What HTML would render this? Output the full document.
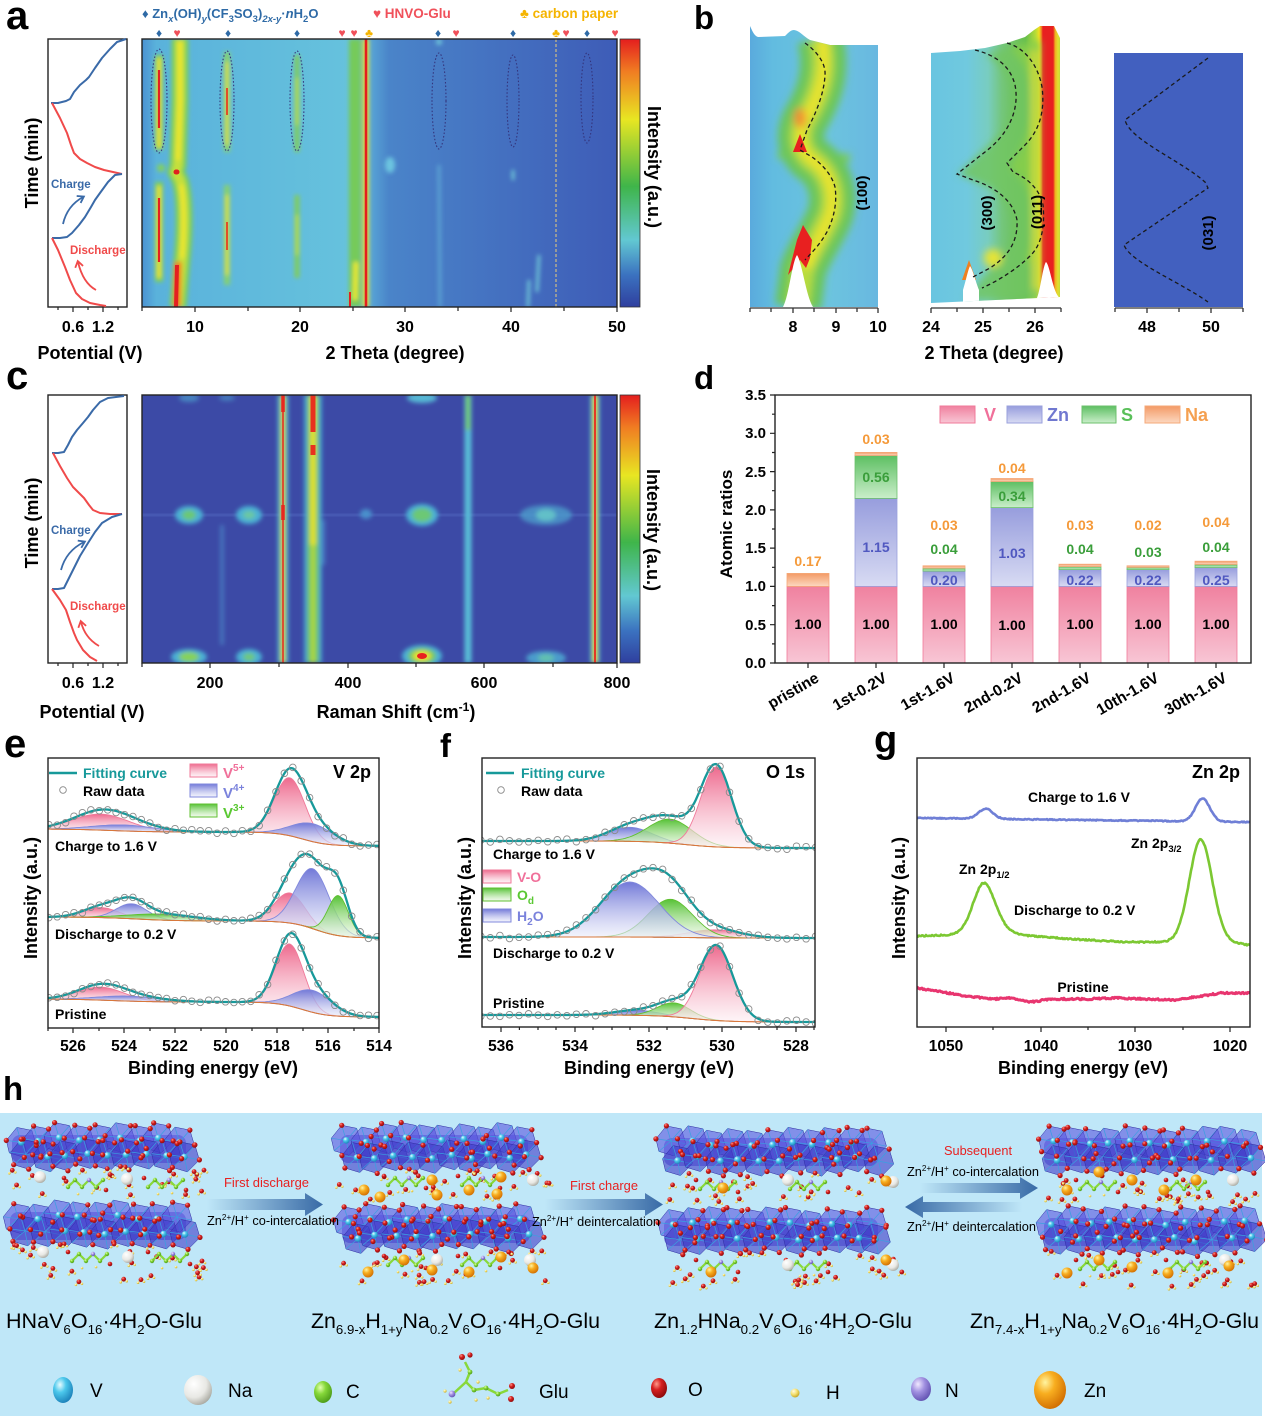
<!DOCTYPE html>
<html><head><meta charset="utf-8"><style>
html,body{margin:0;padding:0;background:#fff;}
svg{display:block;font-family:"Liberation Sans",Arial,sans-serif;}
</style></head><body>
<svg id="s" width="1265" height="1419" viewBox="0 0 1265 1419" xmlns="http://www.w3.org/2000/svg">
<defs>
<filter id="bl1" filterUnits="userSpaceOnUse" x="0" y="0" width="1265" height="1419"><feGaussianBlur stdDeviation="1.2"/></filter>
<filter id="bl2" filterUnits="userSpaceOnUse" x="0" y="0" width="1265" height="1419"><feGaussianBlur stdDeviation="2.2"/></filter>
<filter id="bl4" filterUnits="userSpaceOnUse" x="0" y="0" width="1265" height="1419"><feGaussianBlur stdDeviation="4"/></filter>
<linearGradient id="gA" x1="0" x2="1" y1="0" y2="0">
<stop offset="0" stop-color="#4b92d2"/><stop offset="0.03" stop-color="#5ab2db"/><stop offset="0.44" stop-color="#66c2dd"/><stop offset="0.48" stop-color="#58a6d6"/><stop offset="0.52" stop-color="#4a84c9"/><stop offset="1" stop-color="#3e5cb7"/></linearGradient>
<linearGradient id="gCB" x1="0" x2="0" y1="0" y2="1">
<stop offset="0" stop-color="#e41e1e"/><stop offset="0.12" stop-color="#f07c22"/><stop offset="0.3" stop-color="#e8e622"/><stop offset="0.55" stop-color="#3fb54a"/><stop offset="0.75" stop-color="#62c8d2"/><stop offset="0.88" stop-color="#3b72c0"/><stop offset="1" stop-color="#2f3f9e"/></linearGradient>
<linearGradient id="gB1" x1="0" x2="1" y1="0" y2="0">
<stop offset="0" stop-color="#58a6dc"/><stop offset="0.2" stop-color="#62bce0"/><stop offset="0.6" stop-color="#6cc4df"/><stop offset="1" stop-color="#68b6e0"/></linearGradient>
<linearGradient id="gB2" x1="0" x2="1" y1="0" y2="0">
<stop offset="0" stop-color="#68c4e0"/><stop offset="0.3" stop-color="#70c9df"/><stop offset="0.45" stop-color="#78cdc0"/><stop offset="0.55" stop-color="#74c67c"/><stop offset="0.72" stop-color="#66be4c"/><stop offset="0.79" stop-color="#b8dc38"/><stop offset="0.815" stop-color="#f0e020"/><stop offset="0.83" stop-color="#f08a20"/><stop offset="0.842" stop-color="#e82020"/><stop offset="0.915" stop-color="#e82020"/><stop offset="0.93" stop-color="#f0b020"/><stop offset="0.95" stop-color="#e0e030"/><stop offset="1" stop-color="#80cc48"/></linearGradient>
<linearGradient id="bV" x1="0" x2="0" y1="0" y2="1"><stop offset="0" stop-color="#f0819f"/><stop offset="1" stop-color="#f8c6d5"/></linearGradient>
<linearGradient id="bZn" x1="0" x2="0" y1="0" y2="1"><stop offset="0" stop-color="#979ddd"/><stop offset="1" stop-color="#d8dbf3"/></linearGradient>
<linearGradient id="bS" x1="0" x2="0" y1="0" y2="1"><stop offset="0" stop-color="#5dbf62"/><stop offset="1" stop-color="#caeeca"/></linearGradient>
<linearGradient id="bNa" x1="0" x2="0" y1="0" y2="1"><stop offset="0" stop-color="#f39a66"/><stop offset="1" stop-color="#fcd8c0"/></linearGradient>
<linearGradient id="xgP" x1="0" x2="0" y1="0" y2="1"><stop offset="0" stop-color="#ee6a8e"/><stop offset="1" stop-color="#fdeef3" stop-opacity="0.6"/></linearGradient>
<linearGradient id="xgB" x1="0" x2="0" y1="0" y2="1"><stop offset="0" stop-color="#7279d8"/><stop offset="1" stop-color="#eceefb" stop-opacity="0.6"/></linearGradient>
<linearGradient id="xgG" x1="0" x2="0" y1="0" y2="1"><stop offset="0" stop-color="#56c236"/><stop offset="1" stop-color="#eaf8e2" stop-opacity="0.6"/></linearGradient>
<linearGradient id="arR" x1="0" x2="1" y1="0" y2="0"><stop offset="0" stop-color="#bfe7f8"/><stop offset="1" stop-color="#386aa6"/></linearGradient>
<linearGradient id="arL" x1="1" x2="0" y1="0" y2="0"><stop offset="0" stop-color="#bfe7f8"/><stop offset="1" stop-color="#386aa6"/></linearGradient>
<radialGradient id="rV" cx="0.35" cy="0.3" r="0.75"><stop offset="0" stop-color="#e8fcff"/><stop offset="0.4" stop-color="#4cc8ec"/><stop offset="1" stop-color="#1a7fb8"/></radialGradient>
<radialGradient id="rNa" cx="0.35" cy="0.3" r="0.75"><stop offset="0" stop-color="#ffffff"/><stop offset="0.6" stop-color="#e8e8e4"/><stop offset="1" stop-color="#a8a8a0"/></radialGradient>
<radialGradient id="rC" cx="0.35" cy="0.3" r="0.75"><stop offset="0" stop-color="#e4ffb0"/><stop offset="0.4" stop-color="#86d83a"/><stop offset="1" stop-color="#4a9a18"/></radialGradient>
<radialGradient id="rO" cx="0.35" cy="0.3" r="0.75"><stop offset="0" stop-color="#ff9a8a"/><stop offset="0.4" stop-color="#d62020"/><stop offset="1" stop-color="#8a0a0a"/></radialGradient>
<radialGradient id="rH" cx="0.35" cy="0.3" r="0.75"><stop offset="0" stop-color="#fffbe0"/><stop offset="0.5" stop-color="#f4e070"/><stop offset="1" stop-color="#c0a020"/></radialGradient>
<radialGradient id="rN" cx="0.35" cy="0.3" r="0.75"><stop offset="0" stop-color="#f0e8ff"/><stop offset="0.45" stop-color="#a090e0"/><stop offset="1" stop-color="#6050b0"/></radialGradient>
<radialGradient id="rZn" cx="0.35" cy="0.3" r="0.75"><stop offset="0" stop-color="#fff4a0"/><stop offset="0.4" stop-color="#f8ae20"/><stop offset="1" stop-color="#d06c00"/></radialGradient>
<clipPath id="cA"><rect x="142" y="39" width="475" height="268"/></clipPath>
<clipPath id="cC"><rect x="142" y="395" width="475" height="268"/></clipPath>
<clipPath id="cB1"><path d="M750,26 C752,30 754,36 758,37 L785,36 C789,32 791,30 794,30 C800,31 803,36 810,40 L830,45 L878,45 L878,307 L750,307 Z"/></clipPath>
<clipPath id="cB2"><path d="M931,53 L960,51 L985,48 L1007,43 L1025,37 L1034,30 L1040,26 L1054,26 L1057,32 L1060,38 L1060,297 L931,303 Z"/></clipPath>
<clipPath id="cE"><rect x="48" y="758" width="331" height="270"/></clipPath>
<clipPath id="cF"><rect x="482" y="758" width="333" height="269"/></clipPath>
<clipPath id="cG"><rect x="917" y="758" width="333" height="269"/></clipPath>
<marker id="mkB" markerWidth="10" markerHeight="10" refX="6" refY="5" orient="auto" markerUnits="userSpaceOnUse"><path d="M1,1 L7,5 L1,9" fill="none" stroke="#3a6aa8" stroke-width="1.8"/></marker>
<marker id="mkR" markerWidth="10" markerHeight="10" refX="6" refY="5" orient="auto" markerUnits="userSpaceOnUse"><path d="M1,1 L7,5 L1,9" fill="none" stroke="#f04a4a" stroke-width="1.8"/></marker>
</defs>

<!-- ===== panel labels ===== -->
<g font-weight="bold" fill="#000">
<text x="6" y="29" font-size="40">a</text>
<text x="694" y="29" font-size="33">b</text>
<text x="6" y="389" font-size="40">c</text>
<text x="694" y="389" font-size="33">d</text>
<text x="4" y="757" font-size="40">e</text>
<text x="440" y="757" font-size="33">f</text>
<text x="874" y="752" font-size="38">g</text>
<text x="3" y="1100" font-size="33">h</text>
</g>

<!-- ===== panel a ===== -->
<g font-weight="bold">
<text x="142" y="18" font-size="13" fill="#2e6aa6">♦ Zn<tspan font-size="9.5" dy="4" font-style="italic">x</tspan><tspan dy="-4">(OH)</tspan><tspan font-size="9.5" dy="4" font-style="italic">y</tspan><tspan dy="-4">(CF</tspan><tspan font-size="9.5" dy="4">3</tspan><tspan dy="-4">SO</tspan><tspan font-size="9.5" dy="4">3</tspan><tspan dy="-4">)</tspan><tspan font-size="9.5" dy="4" font-style="italic">2x-y</tspan><tspan dy="-4">·</tspan><tspan font-style="italic">n</tspan>H<tspan font-size="9.5" dy="4">2</tspan><tspan dy="-4">O</tspan></text>
<text x="373" y="18" font-size="13.5" fill="#f0505a">♥ HNVO-Glu</text>
<text x="520" y="18" font-size="13.5" fill="#f5b400">♣ carbon paper</text>
</g>
<g font-size="12" text-anchor="middle">
<text x="159" y="37" fill="#2e6aa6">♦</text><text x="177" y="37" fill="#f0505a">♥</text>
<text x="228" y="37" fill="#2e6aa6">♦</text><text x="297" y="37" fill="#2e6aa6">♦</text>
<text x="342" y="37" fill="#f0505a">♥</text><text x="354" y="37" fill="#f0505a">♥</text><text x="369" y="37" fill="#f5b400">♣</text>
<text x="438" y="37" fill="#2e6aa6">♦</text><text x="456" y="37" fill="#f0505a">♥</text>
<text x="513" y="37" fill="#2e6aa6">♦</text><text x="556" y="37" fill="#f5b400">♣</text><text x="566" y="37" fill="#f0505a">♥</text>
<text x="587" y="37" fill="#2e6aa6">♦</text><text x="615" y="37" fill="#f0505a">♥</text>
</g>
<!-- heatmap a -->
<g clip-path="url(#cA)">
<rect x="142" y="39" width="475" height="268" fill="url(#gA)"/>
<g filter="url(#bl2)" fill="none">
<ellipse cx="390" cy="165" rx="5" ry="8" fill="#6cc4e0"/>
<path d="M439,165 L440,307" stroke="#66b8dc" stroke-width="3" opacity="0.7"/>
<circle cx="439" cy="42" r="3" fill="#70c8dc"/>
<path d="M529,280 L528,307" stroke="#70c8d8" stroke-width="3"/>
<path d="M539,255 L537,292" stroke="#70c8d8" stroke-width="3"/>
<path d="M513,170 L513,180" stroke="#70c8d8" stroke-width="3"/>
<path d="M180,39 L180,100 L178,165 L176,172 L180,180 C185,195 185,230 182,260 L178,307" stroke="#7ccf5a" stroke-width="17"/>
<path d="M180,39 L180,100 L178,165 L176,172 L180,180 C185,195 185,230 182,260 L178,307" stroke="#c6e03a" stroke-width="9"/>
<path d="M180,42 L180,100 L178,160 M181,185 C184,200 184,230 182,258" stroke="#f0e62a" stroke-width="4"/>
<path d="M178,262 L177,307" stroke="#f07a22" stroke-width="7"/>
<path d="M355,39 L355,307" stroke="#76ca5a" stroke-width="12"/>
<path d="M356,262 L355,300" stroke="#e8e830" stroke-width="5"/>
<path d="M366,39 L366,307" stroke="#e8e030" stroke-width="6"/>
<path d="M159,55 L159,150 M159,182 L159,282" stroke="#7ccf5a" stroke-width="8"/>
<path d="M159,58 L159,148 M159,186 L159,278" stroke="#eee430" stroke-width="4"/>
<circle cx="161" cy="168" r="4" fill="#82d060"/>
<path d="M227,52 L227,152 M227,185 L227,285" stroke="#86d070" stroke-width="6"/>
<path d="M227,62 L227,145 M227,195 L227,275" stroke="#e4e436" stroke-width="3"/>
<path d="M297,55 L297,152 M297,195 L297,278" stroke="#80cc5e" stroke-width="5"/>
<path d="M297,78 L297,125 M297,215 L297,255" stroke="#c6e040" stroke-width="2.5"/>
</g>
<g fill="none">
<path d="M176,172 L177,172" stroke="#e02020" stroke-width="5" stroke-linecap="round"/>
<path d="M177,265 L176,307" stroke="#e42020" stroke-width="4"/>
<path d="M159,70 L159,128 M159,198 L159,262" stroke="#e42020" stroke-width="2.2"/>
<path d="M227,88 L227,115 M227,222 L227,250" stroke="#e84020" stroke-width="1.8"/>
<path d="M350,292 L350,307" stroke="#e42020" stroke-width="2"/>
<path d="M366,39 L366,307" stroke="#e41e1e" stroke-width="2.6"/>
<path d="M556,39 L556,307" stroke="#b4ab8e" stroke-width="1.5" stroke-dasharray="3,2"/>
</g>
<g fill="none" stroke="#34347c" stroke-width="1.1" stroke-dasharray="1.5,2">
<ellipse cx="159" cy="101" rx="8" ry="52"/>
<ellipse cx="227" cy="101" rx="7" ry="50"/>
<ellipse cx="297" cy="101" rx="7" ry="50"/>
<ellipse cx="439" cy="101" rx="7" ry="48"/>
<ellipse cx="513" cy="101" rx="6" ry="46"/>
<ellipse cx="587" cy="98" rx="6" ry="45"/>
</g>
</g>
<rect x="142" y="39" width="475" height="268" fill="none" stroke="#222" stroke-width="1.4"/>
<rect x="620" y="39" width="20" height="268" fill="url(#gCB)" stroke="#333" stroke-width="0.8"/>
<g stroke="#222" stroke-width="1.2">
<path d="M142,307 v4 M195,307 v5 M248,307 v4 M300,307 v5 M353,307 v4 M405,307 v5 M458,307 v4 M511,307 v5 M564,307 v4 M617,307 v5"/>
</g>
<rect x="48" y="39" width="79" height="268" fill="none" stroke="#222" stroke-width="1.4"/>
<path d="M58,307 v3 M73,307 v5 M88,307 v3 M103,307 v5 M118,307 v3" stroke="#222" stroke-width="1.2"/>
<g fill="none" stroke-width="2" stroke-linejoin="round">
<polyline stroke="#3a6aa8" points="51,103 58,103 66,101 70,99 74,92 80,85 86,80 89,77 95,68 102,58 110,49 117,42 126,39"/>
<polyline stroke="#f04a4a" points="52,103 60,118 67,133 71,145 74,153 80,159 87,163 95,167 104,170 113,172 122,174"/>
<polyline stroke="#3a6aa8" points="122,174 115,175 108,182 100,193 95,200 91,207 85,217 79,225 72,233 67,237 60,238 52,238"/>
<polyline stroke="#f04a4a" points="52,238 58,250 65,267 70,280 76,293 82,299 90,303 100,305 106,306"/>
<path d="M63,224 Q67,206 83,197" stroke="#3a6aa8" stroke-width="1.8" marker-end="url(#mkB)"/>
<path d="M96,290 Q83,283 78,262" stroke="#f04a4a" stroke-width="1.8" marker-end="url(#mkR)"/>
</g>
<text x="51" y="188" font-size="11.5" font-weight="bold" fill="#3a6aa8">Charge</text>
<text x="70" y="254" font-size="11.5" font-weight="bold" fill="#f04a4a">Discharge</text>
<g font-weight="bold" font-size="16" text-anchor="middle">
<text x="73" y="332">0.6</text><text x="103" y="332">1.2</text>
<text x="195" y="332">10</text><text x="300" y="332">20</text><text x="405" y="332">30</text><text x="511" y="332">40</text><text x="617" y="332">50</text>
<text x="90" y="359" font-size="18">Potential (V)</text>
<text x="395" y="359" font-size="18">2 Theta (degree)</text>
<text transform="translate(38,163) rotate(-90)" font-size="18">Time (min)</text>
<text transform="translate(648,167) rotate(90)" font-size="18">Intensity (a.u.)</text>
</g>

<!-- ===== panel b ===== -->
<g clip-path="url(#cB1)">
<rect x="745" y="20" width="140" height="290" fill="url(#gB1)"/>
<g filter="url(#bl4)" fill="none">
<path d="M778,155 L850,158" stroke="#7ccd58" stroke-width="8"/>
<path d="M820,38 C828,70 820,95 805,120 C798,135 800,150 812,160 C830,172 836,195 830,215 C822,235 810,250 803,270 L798,307" stroke="#6cc65a" stroke-width="46"/>
<path d="M820,38 C828,70 820,95 805,120 C798,135 800,150 812,160 C830,172 836,195 830,215 C822,235 810,250 803,270 L798,307" stroke="#b8dc3c" stroke-width="22"/>
<path d="M822,40 C828,70 820,95 805,120 C798,135 800,150 812,160 C830,172 836,195 830,215 C822,235 812,250 806,268" stroke="#f0e42a" stroke-width="8"/>
<ellipse cx="800" cy="118" rx="6" ry="10" fill="#f09030"/>
</g>
<path d="M793,152 L800,134 L807,152 Z" fill="#e82020"/>
<path d="M788,275 L797,240 L803,225 L812,240 L810,258 L806,268 L800,260 Z" fill="#e82020"/>
<path d="M783,307 C789,296 792,262 797,255 C802,262 806,296 813,307 Z" fill="#fff"/>
</g>
<g clip-path="url(#cB2)">
<rect x="925" y="20" width="140" height="290" fill="url(#gB2)"/>
<g filter="url(#bl4)">
<path d="M985,55 C1010,65 1018,95 1005,130 L958,174 L995,190 C1017,213 1017,233 1003,257 L985,275 L965,300 L1040,300 L1040,40 Z" fill="#72c660" opacity="0.85"/>
<path d="M1010,48 C1035,70 1040,110 1020,150 L1010,168 C1035,185 1042,225 1025,262 L1040,262 L1040,40 Z" fill="#8ad048" opacity="0.8"/>
<ellipse cx="993" cy="258" rx="9" ry="9" fill="#e6e436"/>
<path d="M1034,50 L1036,290" stroke="#e0e030" stroke-width="5" fill="none"/>
</g>
<path d="M962,280 L969,260 L976,280 Z" fill="#f08020"/>
<path d="M963,290 C966,280 968,270 970,266 C973,270 975,280 979,290 L979,303 L963,303 Z" fill="#fff"/>
<path d="M1036,300 C1040,294 1043,265 1046,262 C1050,265 1053,294 1060,298 L1060,310 L1036,310 Z" fill="#fff"/>
</g>
<rect x="1114" y="53" width="129" height="254" fill="#3f5dbd"/>
<rect x="1114" y="53" width="129" height="254" fill="#4a66c4" opacity="0.3"/>
<g fill="none" stroke="#1a1a1a" stroke-width="1.3" stroke-dasharray="4,3">
<path d="M805,43 C815,50 826,62 825,75 C824,95 815,115 807,130 L800,150 L812,157 C822,164 832,175 835,187 C837,200 835,215 828,230 C820,245 812,252 805,260"/>
<path d="M975,50 C995,55 1010,65 1015,85 C1020,110 1008,135 985,152 L957,174 L973,180 C995,187 1013,200 1017,220 C1018,240 1010,255 990,268 L973,277"/>
<path d="M1007,43 C1025,48 1038,65 1042,87 C1045,110 1040,130 1025,145 L1007,163 L1013,172 C1028,178 1040,190 1043,205 C1045,225 1042,245 1030,256 C1018,268 1000,280 982,288"/>
<path d="M1208,58 L1125,120 C1130,140 1180,160 1205,182 L1208,188 L1124,245 C1130,262 1180,282 1208,302"/>
</g>
<g font-weight="bold" font-size="15">
<text transform="translate(867,193) rotate(-90)" text-anchor="middle">(100)</text>
<text transform="translate(992,213) rotate(-90)" text-anchor="middle">(300)</text>
<text transform="translate(1042,212) rotate(-90)" text-anchor="middle">(011)</text>
<text transform="translate(1213,233) rotate(-90)" text-anchor="middle">(031)</text>
</g>
<g stroke="#333" stroke-width="1.3">
<path d="M750,308 H878 M931,308 H1061 M1115,308 H1243"/>
<path d="M750,308 v4 M771,308 v4 M793,308 v5 M814,308 v4 M836,308 v5 M857,308 v4 M878,308 v5 M931,308 v5 M957,308 v4 M983,308 v5 M1009,308 v4 M1035,308 v5 M1061,308 v4 M1115,308 v4 M1147,308 v5 M1179,308 v4 M1211,308 v5 M1243,308 v4"/>
</g>
<g font-weight="bold" font-size="16" text-anchor="middle">
<text x="793" y="332">8</text><text x="836" y="332">9</text><text x="878" y="332">10</text>
<text x="931" y="332">24</text><text x="983" y="332">25</text><text x="1035" y="332">26</text>
<text x="1147" y="332">48</text><text x="1211" y="332">50</text>
<text x="994" y="359" font-size="18">2 Theta (degree)</text>
</g>

<!-- ===== panel c ===== -->
<g clip-path="url(#cC)">
<rect x="142" y="395" width="475" height="268" fill="#3c4aa6"/>
<path d="M142,515 H617" stroke="#4658b2" stroke-width="3"/>
<g filter="url(#bl2)" fill="none">
<path d="M222,525 L222,645" stroke="#4c8ccc" stroke-width="4" opacity="0.6"/>
<path d="M323,520 L323,565" stroke="#4c8ccc" stroke-width="5" opacity="0.6"/>
<path d="M283,395 V663" stroke="#4cb6d2" stroke-width="11" opacity="0.85"/>
<path d="M283,395 V663" stroke="#76cc60" stroke-width="6"/>
<path d="M283,395 V663" stroke="#e6dc30" stroke-width="3"/>
<path d="M313,395 V663" stroke="#4ab2d4" stroke-width="18" opacity="0.85"/>
<path d="M313,395 V663" stroke="#72c85a" stroke-width="11"/>
<path d="M313,395 V545" stroke="#e0e030" stroke-width="6"/>
<path d="M313,545 V663" stroke="#c0dc40" stroke-width="3"/>
<path d="M468,395 V663" stroke="#58bed8" stroke-width="7"/>
<path d="M468,395 V430" stroke="#72c870" stroke-width="5"/>
<path d="M595,395 V663" stroke="#4cb6d2" stroke-width="10" opacity="0.8"/>
<path d="M595,395 V663" stroke="#78cc5a" stroke-width="6"/>
<path d="M595,395 V663" stroke="#ece030" stroke-width="3.5"/>
<ellipse cx="189" cy="515" rx="14" ry="9" fill="#4cb0d4"/><ellipse cx="189" cy="515" rx="7" ry="5" fill="#6cc874"/>
<ellipse cx="249" cy="515" rx="13" ry="9" fill="#4cb0d4"/><ellipse cx="249" cy="515" rx="6" ry="4" fill="#6cc8a0"/>
<ellipse cx="366" cy="514" rx="6" ry="5" fill="#4a90cc"/>
<ellipse cx="422" cy="515" rx="16" ry="11" fill="#4cb0d4"/><ellipse cx="422" cy="515" rx="10" ry="7" fill="#6cc874"/>
<ellipse cx="546" cy="515" rx="26" ry="10" fill="#4c9ccc" opacity="0.8"/><ellipse cx="546" cy="515" rx="10" ry="6" fill="#62c0c8"/>
<ellipse cx="189" cy="657" rx="18" ry="8" fill="#4cb0d4"/><ellipse cx="189" cy="657" rx="10" ry="5" fill="#86d25a"/>
<ellipse cx="249" cy="657" rx="13" ry="8" fill="#4cb0d4"/><ellipse cx="249" cy="657" rx="6" ry="4" fill="#70c87a"/>
<ellipse cx="422" cy="656" rx="20" ry="11" fill="#4cb0d4"/><ellipse cx="422" cy="656" rx="14" ry="8" fill="#74ca5a"/><ellipse cx="422" cy="656" rx="9" ry="5" fill="#ece030"/>
<ellipse cx="546" cy="658" rx="20" ry="7" fill="#4c9ccc"/><ellipse cx="546" cy="658" rx="8" ry="4" fill="#62c0b0"/>
<ellipse cx="189" cy="398" rx="10" ry="4" fill="#4c9ccc" opacity="0.7"/>
<ellipse cx="227" cy="398" rx="8" ry="3" fill="#4c9ccc" opacity="0.6"/>
<ellipse cx="422" cy="398" rx="15" ry="5" fill="#56b8d4"/>
</g>
<g fill="none">
<path d="M283,395 V663" stroke="#e8281e" stroke-width="1.5"/>
<path d="M283,395 V412 M283,505 V520" stroke="#e8281e" stroke-width="3.5"/>
<path d="M313,395 V432 M313,445 V455" stroke="#e8301e" stroke-width="5"/>
<path d="M595,395 V663" stroke="#e8281e" stroke-width="1.8"/>
<ellipse cx="422" cy="656" rx="5" ry="3" fill="#e82020"/>
</g>
</g>
<rect x="142" y="395" width="475" height="268" fill="none" stroke="#222" stroke-width="1.4"/>
<rect x="620" y="395" width="20" height="268" fill="url(#gCB)" stroke="#333" stroke-width="0.8"/>
<path d="M142,663 v4 M210,663 v5 M279,663 v4 M348,663 v5 M416,663 v4 M484,663 v5 M553,663 v4 M617,663 v5" stroke="#222" stroke-width="1.2"/>
<rect x="48" y="395" width="79" height="268" fill="none" stroke="#222" stroke-width="1.4"/>
<path d="M58,663 v3 M73,663 v5 M88,663 v3 M103,663 v5 M118,663 v3" stroke="#222" stroke-width="1.2"/>
<g fill="none" stroke-width="2" stroke-linejoin="round">
<polyline stroke="#3a6aa8" points="52,453 58,453 64,452 68,445 72,437 77,430 83,423 88,417 93,410 100,402 108,398 116,397 124,396"/>
<polyline stroke="#f04a4a" points="53,453 60,466 67,478 73,487 79,493 84,498 89,505 93,510 100,513 110,514 122,514"/>
<polyline stroke="#3a6aa8" points="122,514 112,517 102,523 95,532 88,543 80,556 73,570 68,580 64,588 58,589 52,589"/>
<polyline stroke="#f04a4a" points="52,589 60,600 66,610 70,622 74,633 77,640 83,650 90,657 97,661"/>
<path d="M61,570 Q66,551 84,542" stroke="#3a6aa8" stroke-width="1.8" marker-end="url(#mkB)"/>
<path d="M99,646 Q85,638 81,622" stroke="#f04a4a" stroke-width="1.8" marker-end="url(#mkR)"/>
</g>
<text x="51" y="534" font-size="11.5" font-weight="bold" fill="#3a6aa8">Charge</text>
<text x="70" y="610" font-size="11.5" font-weight="bold" fill="#f04a4a">Discharge</text>
<g font-weight="bold" font-size="16" text-anchor="middle">
<text x="73" y="688">0.6</text><text x="103" y="688">1.2</text>
<text x="210" y="688">200</text><text x="348" y="688">400</text><text x="484" y="688">600</text><text x="617" y="688">800</text>
<text x="92" y="718" font-size="18">Potential (V)</text>
<text x="396" y="718" font-size="18">Raman Shift (cm<tspan font-size="12" dy="-7">-1</tspan><tspan dy="7">)</tspan></text>
<text transform="translate(38,523) rotate(-90)" font-size="18">Time (min)</text>
<text transform="translate(647,530) rotate(90)" font-size="18">Intensity (a.u.)</text>
</g>

<!-- ===== panel d ===== -->
<g stroke-width="0.8">
<rect x="787" y="586.4" width="42" height="76.6" fill="url(#bV)" stroke="#f07a9a"/>
<rect x="787" y="573.4" width="42" height="13" fill="url(#bNa)" stroke="#f5a878"/>
<rect x="855" y="586.4" width="42" height="76.6" fill="url(#bV)" stroke="#f07a9a"/>
<rect x="855" y="498.4" width="42" height="88" fill="url(#bZn)" stroke="#9aa0dc"/>
<rect x="855" y="455.5" width="42" height="42.9" fill="url(#bS)" stroke="#6cc06c"/>
<rect x="855" y="452.4" width="42" height="3.1" fill="url(#bNa)" stroke="#f5a878"/>
<rect x="923" y="586.4" width="42" height="76.6" fill="url(#bV)" stroke="#f07a9a"/>
<rect x="923" y="571.1" width="42" height="15.3" fill="url(#bZn)" stroke="#9aa0dc"/>
<rect x="923" y="568.1" width="42" height="3" fill="url(#bS)" stroke="#6cc06c"/>
<rect x="923" y="565.8" width="42" height="2.3" fill="url(#bNa)" stroke="#f5a878"/>
<rect x="991" y="586.4" width="42" height="76.6" fill="url(#bV)" stroke="#f07a9a"/>
<rect x="991" y="507.6" width="42" height="78.8" fill="url(#bZn)" stroke="#9aa0dc"/>
<rect x="991" y="481.5" width="42" height="26.1" fill="url(#bS)" stroke="#6cc06c"/>
<rect x="991" y="478.5" width="42" height="3" fill="url(#bNa)" stroke="#f5a878"/>
<rect x="1059" y="586.4" width="42" height="76.6" fill="url(#bV)" stroke="#f07a9a"/>
<rect x="1059" y="569.6" width="42" height="16.8" fill="url(#bZn)" stroke="#9aa0dc"/>
<rect x="1059" y="566.5" width="42" height="3.1" fill="url(#bS)" stroke="#6cc06c"/>
<rect x="1059" y="564.2" width="42" height="2.3" fill="url(#bNa)" stroke="#f5a878"/>
<rect x="1127" y="586.4" width="42" height="76.6" fill="url(#bV)" stroke="#f07a9a"/>
<rect x="1127" y="569.6" width="42" height="16.8" fill="url(#bZn)" stroke="#9aa0dc"/>
<rect x="1127" y="567.3" width="42" height="2.3" fill="url(#bS)" stroke="#6cc06c"/>
<rect x="1127" y="565.8" width="42" height="1.5" fill="url(#bNa)" stroke="#f5a878"/>
<rect x="1195" y="586.4" width="42" height="76.6" fill="url(#bV)" stroke="#f07a9a"/>
<rect x="1195" y="567.5" width="42" height="18.9" fill="url(#bZn)" stroke="#9aa0dc"/>
<rect x="1195" y="564.4" width="42" height="3.1" fill="url(#bS)" stroke="#6cc06c"/>
<rect x="1195" y="561.2" width="42" height="3.2" fill="url(#bNa)" stroke="#f5a878"/>
</g>
<rect x="775" y="395" width="476" height="268" fill="none" stroke="#222" stroke-width="1.4"/>
<g stroke="#222" stroke-width="1.2">
<path d="M775,663 h-5 M775,624.7 h-5 M775,586.4 h-5 M775,548.1 h-5 M775,509.9 h-5 M775,471.6 h-5 M775,433.3 h-5 M775,395 h-5"/>
<path d="M775,643.9 h-3 M775,605.6 h-3 M775,567.3 h-3 M775,529 h-3 M775,490.7 h-3 M775,452.5 h-3 M775,414.2 h-3"/>
<path d="M808,663 v5 M876,663 v5 M944,663 v5 M1012,663 v5 M1080,663 v5 M1148,663 v5 M1216,663 v5"/>
</g>
<g font-weight="bold" font-size="15" text-anchor="end">
<text x="766" y="668">0.0</text><text x="766" y="630">0.5</text><text x="766" y="591">1.0</text><text x="766" y="553">1.5</text>
<text x="766" y="515">2.0</text><text x="766" y="477">2.5</text><text x="766" y="438">3.0</text><text x="766" y="400">3.5</text>
<text transform="translate(820,681) rotate(-30)" font-size="15.5">pristine</text>
<text transform="translate(888,681) rotate(-30)" font-size="15.5">1st-0.2V</text>
<text transform="translate(956,681) rotate(-30)" font-size="15.5">1st-1.6V</text>
<text transform="translate(1024,681) rotate(-30)" font-size="15.5">2nd-0.2V</text>
<text transform="translate(1092,681) rotate(-30)" font-size="15.5">2nd-1.6V</text>
<text transform="translate(1160,681) rotate(-30)" font-size="15.5">10th-1.6V</text>
<text transform="translate(1228,681) rotate(-30)" font-size="15.5">30th-1.6V</text>
</g>
<text transform="translate(732,524) rotate(-90)" font-weight="bold" font-size="17" text-anchor="middle">Atomic ratios</text>
<g font-weight="bold" font-size="14" text-anchor="middle">
<text x="808" y="629">1.00</text><text x="876" y="629">1.00</text><text x="944" y="629">1.00</text><text x="1012" y="630">1.00</text><text x="1080" y="629">1.00</text><text x="1148" y="629">1.00</text><text x="1216" y="629">1.00</text>
<g fill="#f59a3a"><text x="808" y="566">0.17</text><text x="876" y="444">0.03</text><text x="944" y="530">0.03</text><text x="1012" y="473">0.04</text><text x="1080" y="530">0.03</text><text x="1148" y="530">0.02</text><text x="1216" y="527">0.04</text></g>
<g fill="#3a9e3a"><text x="876" y="482">0.56</text><text x="944" y="554">0.04</text><text x="1012" y="501">0.34</text><text x="1080" y="554">0.04</text><text x="1148" y="557">0.03</text><text x="1216" y="552">0.04</text></g>
<g fill="#5058c0"><text x="876" y="552">1.15</text><text x="944" y="585">0.20</text><text x="1012" y="558">1.03</text><text x="1080" y="585">0.22</text><text x="1148" y="585">0.22</text><text x="1216" y="585">0.25</text></g>
</g>
<rect x="940" y="406" width="35" height="17" fill="url(#bV)" stroke="#f07a9a"/>
<rect x="1007" y="406" width="35" height="17" fill="url(#bZn)" stroke="#9aa0dc"/>
<rect x="1082" y="406" width="34" height="17" fill="url(#bS)" stroke="#6cc06c"/>
<rect x="1145" y="406" width="35" height="17" fill="url(#bNa)" stroke="#f5a878"/>
<g font-weight="bold" font-size="18">
<text x="984" y="421" fill="#f0709a">V</text>
<text x="1047" y="421" fill="#7078d0">Zn</text>
<text x="1121" y="421" fill="#5ac05a">S</text>
<text x="1185" y="421" fill="#f5a050">Na</text>
</g>

<!-- ===== panel e ===== -->
<g id="gE" clip-path="url(#cE)"></g>
<rect x="48" y="758" width="331" height="270" fill="none" stroke="#222" stroke-width="1.4"/>
<path d="M48,1028 v3 M73,1028 v5 M99,1028 v3 M124,1028 v5 M150,1028 v3 M175,1028 v5 M201,1028 v3 M226,1028 v5 M252,1028 v3 M277,1028 v5 M303,1028 v3 M328,1028 v5 M354,1028 v3 M379,1028 v5" stroke="#222" stroke-width="1.2"/>
<g font-weight="bold">
<path d="M49,773 H77" stroke="#17999a" stroke-width="2.4"/>
<text x="83" y="778" font-size="14" fill="#17999a">Fitting curve</text>
<circle cx="63" cy="790" r="3.3" fill="none" stroke="#888" stroke-width="0.9"/>
<text x="83" y="796" font-size="14">Raw data</text>
<rect x="190" y="764" width="27" height="13" fill="url(#xgP)" stroke="#f07a9a"/>
<rect x="190" y="784" width="27" height="13" fill="url(#xgB)" stroke="#8088dc"/>
<rect x="190" y="804" width="27" height="13" fill="url(#xgG)" stroke="#60c030"/>
<text x="223" y="778" font-size="15" fill="#f0709a">V<tspan font-size="10" dy="-7">5+</tspan></text>
<text x="223" y="798" font-size="15" fill="#7a82dc">V<tspan font-size="10" dy="-7">4+</tspan></text>
<text x="223" y="818" font-size="15" fill="#5ac832">V<tspan font-size="10" dy="-7">3+</tspan></text>
<text x="333" y="778" font-size="18">V 2p</text>
<text x="55" y="851" font-size="14">Charge to 1.6 V</text>
<text x="55" y="939" font-size="14">Discharge to 0.2 V</text>
<text x="55" y="1019" font-size="14">Pristine</text>
<g font-size="15.5" text-anchor="middle">
<text x="73" y="1051">526</text><text x="124" y="1051">524</text><text x="175" y="1051">522</text><text x="226" y="1051">520</text><text x="277" y="1051">518</text><text x="328" y="1051">516</text><text x="379" y="1051">514</text>
<text x="213" y="1074" font-size="18">Binding energy (eV)</text>
<text transform="translate(37,898) rotate(-90)" font-size="18">Intensity (a.u.)</text>
</g>
</g>

<!-- ===== panel f ===== -->
<g id="gF" clip-path="url(#cF)"></g>
<rect x="482" y="758" width="333" height="269" fill="none" stroke="#222" stroke-width="1.4"/>
<path d="M501,1027 v5 M519.4,1027 v3 M538,1027 v3 M556,1027 v3 M575,1027 v5 M593,1027 v3 M612,1027 v3 M630,1027 v3 M649,1027 v5 M667,1027 v3 M685,1027 v3 M704,1027 v3 M722,1027 v5 M741,1027 v3 M759,1027 v3 M777,1027 v3 M796,1027 v5 M814,1027 v3" stroke="#222" stroke-width="1.2"/>
<g font-weight="bold">
<path d="M486,773 H514" stroke="#17999a" stroke-width="2.4"/>
<text x="521" y="778" font-size="14" fill="#17999a">Fitting curve</text>
<circle cx="501" cy="790" r="3.3" fill="none" stroke="#888" stroke-width="0.9"/>
<text x="521" y="796" font-size="14">Raw data</text>
<text x="766" y="778" font-size="18">O 1s</text>
<text x="493" y="859" font-size="14">Charge to 1.6 V</text>
<rect x="483" y="870" width="28" height="13" fill="url(#xgP)" stroke="#f07a9a"/>
<rect x="483" y="888" width="28" height="13" fill="url(#xgG)" stroke="#60c030"/>
<rect x="483" y="909" width="28" height="13" fill="url(#xgB)" stroke="#8088dc"/>
<text x="517" y="882" font-size="14" fill="#f0709a">V-O</text>
<text x="517" y="900" font-size="14" fill="#5ac832">O<tspan font-size="10" dy="4">d</tspan></text>
<text x="517" y="921" font-size="14" fill="#7a82dc">H<tspan font-size="10" dy="4">2</tspan><tspan dy="-4">O</tspan></text>
<text x="493" y="958" font-size="14">Discharge to 0.2 V</text>
<text x="493" y="1008" font-size="14">Pristine</text>
<g font-size="15.5" text-anchor="middle">
<text x="501" y="1051">536</text><text x="575" y="1051">534</text><text x="649" y="1051">532</text><text x="722" y="1051">530</text><text x="796" y="1051">528</text>
<text x="649" y="1074" font-size="18">Binding energy (eV)</text>
<text transform="translate(471,898) rotate(-90)" font-size="18">Intensity (a.u.)</text>
</g>
</g>

<!-- ===== panel g ===== -->
<g id="gG" clip-path="url(#cG)"></g>
<rect x="917" y="758" width="333" height="269" fill="none" stroke="#222" stroke-width="1.4"/>
<path d="M946,1027 v5 M993,1027 v3 M1041,1027 v5 M1088,1027 v3 M1135,1027 v5 M1183,1027 v3 M1230,1027 v5" stroke="#222" stroke-width="1.2"/>
<g font-weight="bold">
<text x="1240" y="778" font-size="18" text-anchor="end">Zn 2p</text>
<text x="1079" y="802" font-size="14" text-anchor="middle">Charge to 1.6 V</text>
<text x="1131" y="848" font-size="14">Zn 2p<tspan font-size="9.5" dy="4">3/2</tspan></text>
<text x="959" y="874" font-size="14">Zn 2p<tspan font-size="9.5" dy="4">1/2</tspan></text>
<text x="1014" y="915" font-size="14">Discharge to 0.2 V</text>
<text x="1083" y="992" font-size="14" text-anchor="middle">Pristine</text>
<g font-size="15.5" text-anchor="middle">
<text x="946" y="1051">1050</text><text x="1041" y="1051">1040</text><text x="1135" y="1051">1030</text><text x="1230" y="1051">1020</text>
<text x="1083" y="1074" font-size="18">Binding energy (eV)</text>
<text transform="translate(905,898) rotate(-90)" font-size="18">Intensity (a.u.)</text>
</g>
</g>

<!-- ===== panel h ===== -->
<rect x="0" y="1113" width="1262" height="303" fill="#bfe7f8"/>
<g id="gH"></g>
<polygon points="207,1199 305,1199 305,1193 323,1204.5 305,1216 305,1210 207,1210" fill="url(#arR)"/>
<polygon points="545,1199 645,1199 645,1193 663,1204.5 645,1216 645,1210 545,1210" fill="url(#arR)"/>
<polygon points="920,1183 1020,1183 1020,1177 1038,1188 1020,1199 1020,1193 920,1193" fill="url(#arR)"/>
<polygon points="1022,1202 923,1202 923,1196 905,1207 923,1218 923,1212 1022,1212" fill="url(#arL)"/>
<g font-size="12.5">
<text x="224" y="1187" fill="#e82020" textLength="85" lengthAdjust="spacingAndGlyphs">First discharge</text>
<text x="207" y="1225" textLength="132" lengthAdjust="spacingAndGlyphs">Zn<tspan font-size="8" dy="-5">2+</tspan><tspan dy="5">/H</tspan><tspan font-size="8" dy="-5">+</tspan><tspan dy="5"> co-intercalation</tspan></text>
<text x="570" y="1190" fill="#e82020" textLength="68" lengthAdjust="spacingAndGlyphs">First charge</text>
<text x="532" y="1226" textLength="128" lengthAdjust="spacingAndGlyphs">Zn<tspan font-size="8" dy="-5">2+</tspan><tspan dy="5">/H</tspan><tspan font-size="8" dy="-5">+</tspan><tspan dy="5"> deintercalation</tspan></text>
<text x="944" y="1155" fill="#e82020" textLength="68" lengthAdjust="spacingAndGlyphs">Subsequent</text>
<text x="907" y="1176" textLength="132" lengthAdjust="spacingAndGlyphs">Zn<tspan font-size="8" dy="-5">2+</tspan><tspan dy="5">/H</tspan><tspan font-size="8" dy="-5">+</tspan><tspan dy="5"> co-intercalation</tspan></text>
<text x="907" y="1231" textLength="129" lengthAdjust="spacingAndGlyphs">Zn<tspan font-size="8" dy="-5">2+</tspan><tspan dy="5">/H</tspan><tspan font-size="8" dy="-5">+</tspan><tspan dy="5"> deintercalation</tspan></text>
</g>
<g font-size="21">
<text x="6" y="1328" textLength="196" lengthAdjust="spacingAndGlyphs">HNaV<tspan font-size="13" dy="6">6</tspan><tspan dy="-6">O</tspan><tspan font-size="13" dy="6">16</tspan><tspan dy="-6">·4H</tspan><tspan font-size="13" dy="6">2</tspan><tspan dy="-6">O-Glu</tspan></text>
<text x="311" y="1328" textLength="289" lengthAdjust="spacingAndGlyphs">Zn<tspan font-size="13" dy="6">6.9-x</tspan><tspan dy="-6">H</tspan><tspan font-size="13" dy="6">1+y</tspan><tspan dy="-6">Na</tspan><tspan font-size="13" dy="6">0.2</tspan><tspan dy="-6">V</tspan><tspan font-size="13" dy="6">6</tspan><tspan dy="-6">O</tspan><tspan font-size="13" dy="6">16</tspan><tspan dy="-6">·4H</tspan><tspan font-size="13" dy="6">2</tspan><tspan dy="-6">O-Glu</tspan></text>
<text x="654" y="1328" textLength="258" lengthAdjust="spacingAndGlyphs">Zn<tspan font-size="13" dy="6">1.2</tspan><tspan dy="-6">HNa</tspan><tspan font-size="13" dy="6">0.2</tspan><tspan dy="-6">V</tspan><tspan font-size="13" dy="6">6</tspan><tspan dy="-6">O</tspan><tspan font-size="13" dy="6">16</tspan><tspan dy="-6">·4H</tspan><tspan font-size="13" dy="6">2</tspan><tspan dy="-6">O-Glu</tspan></text>
<text x="970" y="1328" textLength="289" lengthAdjust="spacingAndGlyphs">Zn<tspan font-size="13" dy="6">7.4-x</tspan><tspan dy="-6">H</tspan><tspan font-size="13" dy="6">1+y</tspan><tspan dy="-6">Na</tspan><tspan font-size="13" dy="6">0.2</tspan><tspan dy="-6">V</tspan><tspan font-size="13" dy="6">6</tspan><tspan dy="-6">O</tspan><tspan font-size="13" dy="6">16</tspan><tspan dy="-6">·4H</tspan><tspan font-size="13" dy="6">2</tspan><tspan dy="-6">O-Glu</tspan></text>
</g>
<ellipse cx="63" cy="1390" rx="10" ry="13" fill="url(#rV)"/>
<ellipse cx="198" cy="1390" rx="14" ry="15" fill="url(#rNa)"/>
<ellipse cx="323" cy="1392" rx="9" ry="11" fill="url(#rC)"/>
<ellipse cx="659" cy="1388" rx="8" ry="10" fill="url(#rO)"/>
<circle cx="795" cy="1393" r="4.5" fill="url(#rH)"/>
<ellipse cx="921" cy="1389" rx="10" ry="12" fill="url(#rN)"/>
<ellipse cx="1050" cy="1390" rx="16" ry="19" fill="url(#rZn)"/>
<g fill="none" stroke="#88d83a" stroke-width="2.5">
<polyline points="465,1362 470,1372 466,1382 474,1390 486,1388 498,1394 508,1390"/>
<path d="M466,1382 L454,1393"/>
</g>
<circle cx="462" cy="1357" r="3" fill="url(#rO)"/><circle cx="470" cy="1355" r="2.6" fill="url(#rO)"/>
<circle cx="512" cy="1386" r="3" fill="url(#rO)"/><circle cx="511" cy="1399" r="3" fill="url(#rO)"/>
<circle cx="452" cy="1394" r="3.4" fill="url(#rN)"/>
<circle cx="470" cy="1372" r="2.4" fill="url(#rC)"/><circle cx="474" cy="1390" r="2.4" fill="url(#rC)"/><circle cx="486" cy="1388" r="2.4" fill="url(#rC)"/><circle cx="498" cy="1394" r="2.4" fill="url(#rC)"/>
<circle cx="445" cy="1391" r="1.6" fill="url(#rH)"/><circle cx="450" cy="1402" r="1.6" fill="url(#rH)"/><circle cx="478" cy="1382" r="1.6" fill="url(#rH)"/><circle cx="488" cy="1398" r="1.6" fill="url(#rH)"/><circle cx="476" cy="1400" r="1.6" fill="url(#rH)"/><circle cx="460" cy="1370" r="1.6" fill="url(#rH)"/>
<g font-size="19">
<text x="90" y="1397">V</text><text x="228" y="1397">Na</text><text x="346" y="1398">C</text><text x="539" y="1398">Glu</text>
<text x="688" y="1396">O</text><text x="826" y="1399">H</text><text x="945" y="1397">N</text><text x="1084" y="1397">Zn</text>
</g>
</svg>
<script>
(function(){
var NS="http://www.w3.org/2000/svg";
function el(t,a,p){var e=document.createElementNS(NS,t);for(var k in a)e.setAttribute(k,a[k]);p.appendChild(e);return e;}
var seed=12345;function rnd(){seed=(seed*16807)%2147483647;return (seed-1)/2147483646;}
function sig(x){return 1/(1+Math.exp(-x));}
function f(v){return v.toFixed(1);}
var XS={P:"#f07a9a",B:"#8088dc",G:"#60c030"};
function xps(g,xOf,E1,E2,yL,steps,comps,dE){
 function base(E){var y=yL;for(var i=0;i<steps.length;i++){var s=steps[i];y+=s[1]*sig((s[0]-E)/s[2]);}return y;}
 function cv(c,E){return c.h*Math.exp(-0.5*Math.pow((E-c.E0)/c.s,2));}
 function fit(E){var y=base(E);for(var i=0;i<comps.length;i++)y-=cv(comps[i],E);return y;}
 comps.forEach(function(c){
  var a=Math.min(E1,c.E0+3.6*c.s),b=Math.max(E2,c.E0-3.6*c.s);var top=[],bot=[];
  for(var i=0;i<=70;i++){var E=a-(a-b)*i/70;top.push(f(xOf(E))+","+f(base(E)-cv(c,E)));bot.unshift(f(xOf(E))+","+f(base(E)));}
  el("path",{d:"M"+top.join("L")+"L"+bot.join("L")+"Z",fill:"url(#xg"+c.c+")",stroke:XS[c.c],"stroke-width":0.9},g);
 });
 var bl=[],fl=[];
 for(var i=0;i<=220;i++){var E=E1-(E1-E2)*i/220;bl.push(f(xOf(E))+","+f(base(E)));fl.push(f(xOf(E))+","+f(fit(E)));}
 el("polyline",{points:bl.join(" "),fill:"none",stroke:"#d8783c","stroke-width":1.1},g);
 el("polyline",{points:fl.join(" "),fill:"none",stroke:"#17999a","stroke-width":2.3},g);
 for(var E=E1-0.05;E>E2;E-=dE){el("circle",{cx:f(xOf(E)),cy:f(fit(E)+(rnd()-0.5)*3.5),r:3.3,fill:"none",stroke:"#8a8a8a","stroke-width":0.9},g);}
}
var gE=document.getElementById("gE");
var xe=function(E){return 73+(526-E)*25.5;};
xps(gE,xe,527,514,829,[[524.5,3,0.8],[517,14,0.5]],[{E0:524.9,h:16,s:1.1,c:"P"},{E0:524.0,h:6,s:1.2,c:"B"},{E0:517.5,h:58,s:0.6,c:"P"},{E0:516.6,h:18,s:0.8,c:"B"}],0.33);
xps(gE,xe,527,514,917,[[523.5,4,0.8],[516.5,17,0.5]],[{E0:524.9,h:10,s:0.7,c:"P"},{E0:523.7,h:15,s:0.6,c:"B"},{E0:522.5,h:6,s:1.3,c:"G"},{E0:517.5,h:30,s:0.6,c:"P"},{E0:516.6,h:60,s:0.65,c:"B"},{E0:515.6,h:40,s:0.4,c:"G"}],0.33);
xps(gE,xe,527,514,999,[[524.5,3,0.8],[517,15,0.5]],[{E0:524.9,h:13,s:0.9,c:"P"},{E0:523.8,h:5,s:1.2,c:"B"},{E0:517.5,h:62,s:0.55,c:"P"},{E0:516.6,h:22,s:0.75,c:"B"}],0.33);
var gF=document.getElementById("gF");
var xf=function(E){return 501+(536-E)*36.8;};
xps(gF,xf,536.6,527.4,841,[[531,7,0.5]],[{E0:532.5,h:14,s:0.6,c:"B"},{E0:531.4,h:24,s:0.6,c:"G"},{E0:530.15,h:80,s:0.42,c:"P"}],0.26);
xps(gF,xf,536.6,527.4,937,[[531,1,0.5]],[{E0:530.2,h:8,s:0.7,c:"P"},{E0:531.4,h:38,s:0.6,c:"G"},{E0:532.5,h:55,s:0.8,c:"B"}],0.26);
xps(gF,xf,536.6,527.4,1015,[[530.8,7,0.5]],[{E0:532.3,h:5,s:0.6,c:"B"},{E0:531.3,h:14,s:0.45,c:"G"},{E0:530.15,h:75,s:0.45,c:"P"}],0.26);
var gG=document.getElementById("gG");
function interp(t,E){if(E>=t[0][0])return t[0][1];for(var i=1;i<t.length;i++){if(E>=t[i][0]){var a=t[i-1],b=t[i];return b[1]+(a[1]-b[1])*(E-b[0])/(a[0]-b[0]);}}return t[t.length-1][1];}
function gpk(E,E0,h,s){return h*Math.exp(-0.5*Math.pow((E-E0)/s,2));}
function gline(fn,col,w,nz){var p=[];for(var x=916;x<=1251;x+=1){var E=1050-(x-946)/9.47;p.push(x+","+f(fn(E)+(rnd()-0.5)*nz));}el("polyline",{points:p.join(" "),fill:"none",stroke:col,"stroke-width":w,"stroke-linejoin":"round"},gG);}
gline(function(E){return 818+(1053-E)/35*4-gpk(E,1045.8,10,0.75)-gpk(E,1022.9,23,0.75);},"#6f7fd6",2.6,1.0);
var tD=[[1053,936],[1047,934],[1044,931],[1042,935],[1037,939],[1031,942],[1027,942],[1025,942],[1021,941],[1018,945]];
gline(function(E){return interp(tD,E)-gpk(E,1046.0,50,1.15)-gpk(E,1023.1,102,1.2);},"#7cc832",2.6,1.4);
var tP=[[1053,988],[1051,991],[1048,996],[1045,999],[1043,998],[1041,1002],[1039,999],[1035,999],[1032,998],[1029,999],[1026,1000],[1023,996],[1021,993],[1018,993]];
gline(function(E){return interp(tP,E);},"#e8356f",3,1.6);
var gH=document.getElementById("gH");
function ball(x,y,r,gr){el("circle",{cx:f(x),cy:f(y),r:r,fill:"url(#"+gr+")"},gH);}
function layer(x0,y0,w){
 var n=Math.round(w/20),O=[],V=[];
 el("rect",{x:x0+4,y:y0+8,width:w-8,height:28,rx:8,fill:"#4a46d4","fill-opacity":0.55},gH);
 for(var row=0;row<2;row++){for(var i=0;i<n;i++){
  var cx=x0+12+i*(w-24)/(n-1)+(row?7:0)+(rnd()-0.5)*4,cy=y0+13+row*16+(rnd()-0.5)*5,r=15;
  var pts=[[cx-r,cy-2],[cx-r*0.3,cy-r],[cx+r*0.7,cy-r*0.8],[cx+r,cy+3],[cx+r*0.2,cy+r],[cx-r*0.8,cy+r*0.7]];
  el("polygon",{points:pts.map(function(p){return f(p[0])+","+f(p[1]);}).join(" "),fill:row?"#403cc8":"#5a56e0","fill-opacity":0.6,stroke:"#2e2ca0","stroke-width":0.5},gH);
  pts.forEach(function(p){el("line",{x1:f(cx),y1:f(cy),x2:f(p[0]),y2:f(p[1]),stroke:"#3aa0e0","stroke-width":0.7},gH);});
  pts.forEach(function(p){if(rnd()<0.45)O.push(p);});if(rnd()<0.8)V.push([cx,cy]);
 }}
 V.forEach(function(p){ball(p[0],p[1],3.3,"rV");});
 O.forEach(function(p){ball(p[0],p[1],2.6,"rO");});
}
function mols(x0,y0,w,h,nW,glus,na,zn){
 for(var k=0;k<nW;k++){var x=x0+rnd()*w,y=y0+rnd()*h;
  el("line",{x1:f(x),y1:f(y),x2:f(x-3),y2:f(y+3),stroke:"#e8d070","stroke-width":0.8},gH);
  ball(x,y,2.4,"rO");ball(x-3,y+3,1.3,"rH");ball(x+3,y+2,1.3,"rH");}
 glus.forEach(function(g){var x=g[0],y=g[1],pts=[];for(var i=0;i<6;i++)pts.push([x+i*7,y+(i%2?-4:3)]);
  el("polyline",{points:pts.map(function(p){return f(p[0])+","+f(p[1]);}).join(" "),fill:"none",stroke:"#88d83a","stroke-width":2.2},gH);
  pts.forEach(function(p,i){ball(p[0],p[1],2.2,i==3?"rN":"rC");});
  ball(x-4,y-6,2.3,"rO");ball(x+38,y+6,2.3,"rO");ball(x+10,y+10,1.3,"rH");ball(x+24,y+9,1.3,"rH");});
 na.forEach(function(p){ball(p[0],p[1],6,"rNa");});
 zn.forEach(function(p){ball(p[0],p[1],5.5,"rZn");});
}
layer(8,1127,182);mols(10,1166,200,30,24,[[68,1184],[148,1184]],[[40,1177],[127,1179]],[]);
layer(6,1204,184);mols(10,1242,200,40,26,[[72,1258],[152,1258]],[[43,1252],[128,1257]],[]);
layer(336,1127,196);mols(338,1168,222,32,24,[[388,1182],[462,1182]],[[533,1180]],[[364,1190],[380,1197],[432,1180],[437,1195],[469,1190],[501,1177],[497,1194]]);
layer(338,1207,196);mols(338,1248,222,38,26,[[388,1262],[462,1262]],[[437,1260],[530,1260]],[[368,1272],[404,1260],[432,1270],[469,1272],[501,1257],[533,1268]]);
layer(660,1130,222);mols(662,1173,240,30,24,[[700,1186],[790,1186]],[[788,1180],[893,1182]],[[723,1188],[886,1181]]);
layer(660,1210,222);mols(662,1251,240,36,26,[[700,1266],[790,1266]],[[788,1265],[893,1265]],[[711,1272],[886,1260]]);
layer(1040,1130,216);mols(1042,1173,218,30,24,[[1080,1186],[1170,1186]],[[1233,1180]],[[1067,1190],[1099,1172],[1132,1180],[1164,1190],[1196,1180]]);
layer(1040,1210,216);mols(1042,1251,218,36,26,[[1080,1266],[1170,1266]],[[1225,1260]],[[1067,1273],[1099,1260],[1132,1267],[1168,1273],[1229,1266]]);
})();
</script>
</body></html>
